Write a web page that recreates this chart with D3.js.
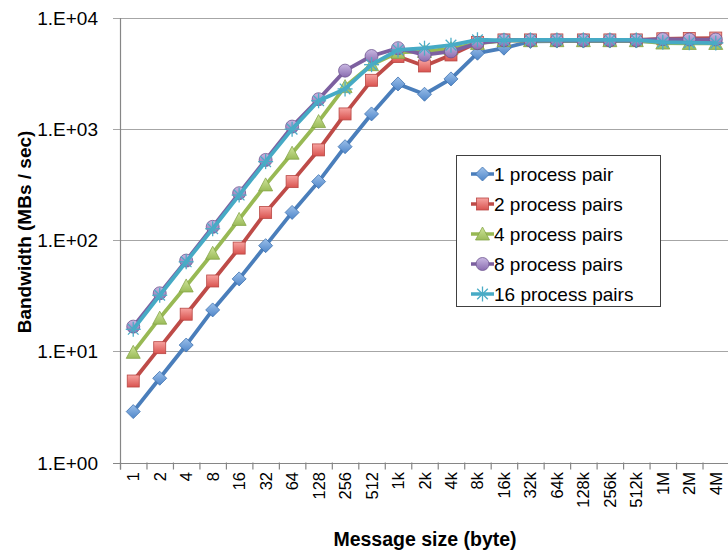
<!DOCTYPE html>
<html>
<head>
<meta charset="utf-8">
<script src="https://cdn.jsdelivr.net/npm/d3@7"></script>
<style>
body { margin: 0; background: #fff; }
text { font-family: "Liberation Sans", Arial, sans-serif; fill: #000; }
</style>
</head>
<body>
<div id="chart"></div>
<script>
// message sizes (x categories)
var sizes = ["1","2","4","8","16","32","64","128","256","512","1k","2k","4k","8k","16k","32k","64k","128k","256k","512k","1M","2M","4M"];

// bandwidth (MBs / sec) per series
var pair1  = [2.87, 5.73, 11.4, 23.6, 44.9, 89.4, 178, 337, 695, 1370, 2550, 2060, 2830, 4820, 5350, 6150, 6200, 6200, 6200, 6200, 6100, 6050, 6000];
var pairs2 = [5.41, 10.8, 21.6, 43, 85, 178, 337, 650, 1370, 2750, 4500, 3700, 4650, 6010, 6350, 6350, 6350, 6350, 6350, 6350, 6500, 6550, 6600];
var pairs4 = [9.8, 19.9, 38.8, 76.4, 154, 315, 607, 1170, 2413, 3800, 4900, 5000, 5300, 5900, 6250, 6250, 6250, 6250, 6250, 6250, 5950, 5900, 5900];
var pairs8 = [16.7, 33.3, 65.6, 132, 265, 528, 1054, 1858, 3360, 4550, 5350, 4650, 5000, 5930, 6300, 6300, 6300, 6300, 6300, 6300, 6450, 6400, 6400];
var pairs16 = [15.8, 32, 64, 127, 255, 510, 1000, 1800, 2300, 3800, 5160, 5350, 5700, 6370, 6300, 6350, 6350, 6350, 6350, 6350, 6050, 6000, 5950];

var seriesNames = ["1 process pair","2 process pairs","4 process pairs","8 process pairs","16 process pairs"];
var yTicks = [1, 10, 100, 1000, 10000];
var yTickLabels = ["1.E+00","1.E+01","1.E+02","1.E+03","1.E+04"];

var w = 728, h = 550;
var svg = d3.select("#chart").append("svg").attr("width", w).attr("height", h);

var x = d3.scaleBand().domain(sizes).range([120, 729]);
var y = d3.scaleLog().domain([1, 10000]).range([462.5, 18]);

var styles = [
	{line:"#4a7ebb", top:"#9cc0ea", bot:"#4f86c9", edge:"#3f72b0", mark:"diamond"},
	{line:"#be4b48", top:"#f7a3a0", bot:"#d9534f", edge:"#b94744", mark:"square"},
	{line:"#98b954", top:"#cfe59a", bot:"#9bbb59", edge:"#86a649", mark:"triangle"},
	{line:"#7d60a0", top:"#c9b8e2", bot:"#8a6cb0", edge:"#6f5590", mark:"circle"},
	{line:"#46aac5", top:"#4bacc6", bot:"#4bacc6", edge:"#4bacc6", mark:"star"}
];
var allSeries = [pair1, pairs2, pairs4, pairs8, pairs16];

// gradients for marker fills
var defs = svg.append("defs");
styles.forEach(function(s, i){
	var g = defs.append("linearGradient").attr("id","grad"+i)
		.attr("x1",0).attr("y1",0).attr("x2",0).attr("y2",1);
	g.append("stop").attr("offset","0%").attr("stop-color",s.top);
	g.append("stop").attr("offset","100%").attr("stop-color",s.bot);
});

// gridlines
svg.selectAll(".grid")
	.data(yTicks.slice(1))
	.enter()
	.append("line")
	.attr("class","grid")
	.attr("x1",113)
	.attr("x2",729)
	.attr("y1",function(d){ return Math.round(y(d))+0.5; })
	.attr("y2",function(d){ return Math.round(y(d))+0.5; })
	.attr("stroke","#a6a6a6")
	.attr("stroke-width",1.2);

// y axis
svg.append("line")
	.attr("x1",120.5).attr("x2",120.5)
	.attr("y1",y(10000)).attr("y2",y(1)+7)
	.attr("stroke","#868686").attr("stroke-width",1.2);
svg.append("line")
	.attr("x1",113).attr("x2",729)
	.attr("y1",Math.round(y(1))+0.5).attr("y2",Math.round(y(1))+0.5)
	.attr("stroke","#868686").attr("stroke-width",1.2);

svg.selectAll(".ylab")
	.data(yTicks)
	.enter()
	.append("text")
	.attr("class","ylab")
	.attr("x",98)
	.attr("y",function(d){ return y(d)+7; })
	.attr("text-anchor","end")
	.style("font-size","19px")
	.text(function(d,i){ return yTickLabels[i]; });

// x tick marks
svg.selectAll(".xtick")
	.data(sizes.concat(["end"]))
	.enter()
	.append("line")
	.attr("class","xtick")
	.attr("x1",function(d,i){ return 120.5 + i*x.step(); })
	.attr("x2",function(d,i){ return 120.5 + i*x.step(); })
	.attr("y1",y(1))
	.attr("y2",y(1)+7)
	.attr("stroke","#868686")
	.attr("stroke-width",1.2);

svg.selectAll(".xlab")
	.data(sizes)
	.enter()
	.append("text")
	.attr("class","xlab")
	.attr("transform",function(d){
		return "translate("+(x(d)+x.bandwidth()/2+6)+",472) rotate(-90)";
	})
	.attr("text-anchor","end")
	.style("font-size","16.5px")
	.text(function(d){ return d; });

// axis titles
svg.append("text")
	.attr("transform","translate(31,232) rotate(-90)")
	.attr("text-anchor","middle")
	.style("font-size","19px")
	.style("font-weight","bold")
	.text("Bandwidth (MBs / sec)");
svg.append("text")
	.attr("x",425).attr("y",546)
	.attr("text-anchor","middle")
	.style("font-size","19.5px")
	.style("font-weight","bold")
	.text("Message size (byte)");

function drawMarker(g, type, i, cx, cy){
	if (type == "diamond") {
		g.append("path").attr("d","M"+cx+","+(cy-7)+"L"+(cx+7)+","+cy+"L"+cx+","+(cy+7)+"L"+(cx-7)+","+cy+"Z")
			.attr("fill","url(#grad"+i+")").attr("stroke",styles[i].edge).attr("stroke-width",0.8);
	} else if (type == "square") {
		g.append("rect").attr("x",cx-6).attr("y",cy-6).attr("width",12).attr("height",12)
			.attr("fill","url(#grad"+i+")").attr("stroke",styles[i].edge).attr("stroke-width",0.8);
	} else if (type == "triangle") {
		g.append("path").attr("d","M"+cx+","+(cy-7)+"L"+(cx+7)+","+(cy+6)+"L"+(cx-7)+","+(cy+6)+"Z")
			.attr("fill","url(#grad"+i+")").attr("stroke",styles[i].edge).attr("stroke-width",0.8);
	} else if (type == "circle") {
		g.append("circle").attr("cx",cx).attr("cy",cy).attr("r",6.5)
			.attr("fill","url(#grad"+i+")").attr("stroke",styles[i].edge).attr("stroke-width",0.8);
	} else {
		var r = 7.5;
		[0,45,90,135].forEach(function(a){
			var rad = a*Math.PI/180;
			g.append("line")
				.attr("x1",cx-r*Math.cos(rad)).attr("y1",cy-r*Math.sin(rad))
				.attr("x2",cx+r*Math.cos(rad)).attr("y2",cy+r*Math.sin(rad))
				.attr("stroke",styles[i].edge).attr("stroke-width",1.3);
		});
	}
}

var line = d3.line()
	.x(function(d,i){ return x(sizes[i]) + x.bandwidth()/2; })
	.y(function(d){ return y(d); });

allSeries.forEach(function(vals, i){
	var g = svg.append("g").attr("class","series"+i);
	g.append("path")
		.datum(vals)
		.attr("d",line)
		.attr("fill","none")
		.attr("stroke",styles[i].line)
		.attr("stroke-width",3.8)
		.attr("stroke-linejoin","round");
	vals.forEach(function(v, j){
		drawMarker(g, styles[i].mark, i, x(sizes[j]) + x.bandwidth()/2, y(v));
	});
});

// legend
var leg = svg.append("g").attr("class","legend");
leg.append("rect")
	.attr("x",456.5).attr("y",155.5)
	.attr("width",204).attr("height",151)
	.attr("fill","white")
	.attr("stroke","#404040")
	.attr("stroke-width",1);
seriesNames.forEach(function(name, i){
	var ly = 174 + i*30;
	leg.append("line")
		.attr("x1",471).attr("x2",494)
		.attr("y1",ly).attr("y2",ly)
		.attr("stroke",styles[i].line)
		.attr("stroke-width",3.5);
	drawMarker(leg, styles[i].mark, i, 482.5, ly);
	leg.append("text")
		.attr("x",494).attr("y",ly+7)
		.style("font-size","19px")
		.text(name);
});
</script>
</body>
</html>
